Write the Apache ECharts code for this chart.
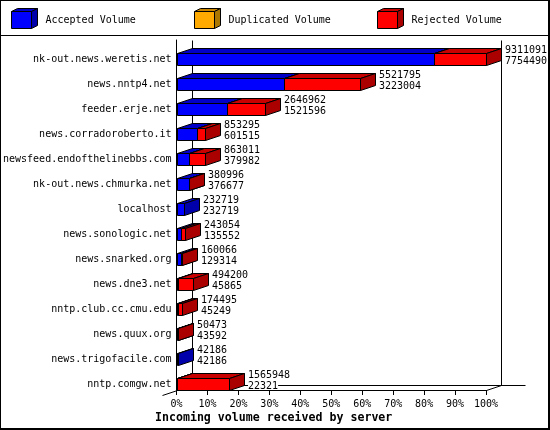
<!DOCTYPE html>
<html>
<head>
<meta charset="utf-8">
<style>html,body{margin:0;padding:0;background:#fff}#c{width:550px;height:430px}</style>
<script src="https://cdn.jsdelivr.net/npm/echarts@6/dist/echarts.min.js"></script>
</head>
<body>
<div id="c"></div>
<script>
const categories = ['nk-out.news.weretis.net','news.nntp4.net','feeder.erje.net','news.corradoroberto.it','newsfeed.endofthelinebbs.com','nk-out.news.chmurka.net','localhost','news.sonologic.net','news.snarked.org','news.dne3.net','nntp.club.cc.cmu.edu','news.quux.org','news.trigofacile.com','nntp.comgw.net'];
const totalVolume = [9311091,5521795,2646962,853295,863011,380996,232719,243054,160066,494200,174495,50473,42186,1565948];
const acceptedVolume = [7754490,3223004,1521596,601515,379982,376677,232719,135552,129314,45865,45249,43592,42186,22321];
const legendNames = ['Accepted Volume','Duplicated Volume','Rejected Volume'];
const axisTitle = 'Incoming volume received by server';

const FONT = '"DejaVu Sans Mono","Liberation Mono",monospace';
const DX = 15, DY = 5, H = 12;
const FACES = {
  accepted: {front:'#0000ff', top:'#0000c8', side:'#0000aa'},
  duplicated: {front:'#ffaa00', top:'#c88600', side:'#aa7700'},
  rejected: {front:'#ff0000', top:'#c80000', side:'#aa0000'}
};
const maxTotal = Math.max.apply(null, totalVolume);
const pct = v => v / maxTotal * 100;
const ln = {stroke:'#000', lineWidth:1};

function boxRenderer(c) {
  return function (params, api) {
    const idx = api.value(0);
    const a = api.coord([api.value(1), idx]);
    const b = api.coord([api.value(2), idx]);
    const x0 = Math.round(a[0]) + 0.5, x1 = Math.round(b[0]) + 0.5;
    const yt = Math.floor(a[1]) + 1.5, yb = yt + H;
    const poly = (pts, fill) => ({type:'polygon', shape:{points:pts}, style:Object.assign({fill}, ln)});
    return {type:'group', children:[
      poly([[x0,yt],[x1,yt],[x1+DX,yt-DY],[x0+DX,yt-DY]], c.top),
      poly([[x1,yt],[x1+DX,yt-DY],[x1+DX,yb-DY],[x1,yb]], c.side),
      poly([[x0,yt],[x1,yt],[x1,yb],[x0,yb]], c.front)
    ]};
  };
}
function frameRenderer(params, api) {
  const tl = api.coord([0, 0]), br = api.coord([100, 0]);
  const x0 = Math.round(tl[0]) + 0.5, x1 = Math.round(br[0]) + 0.5;
  const sz = api.size([0, 1])[1];
  const top = Math.round(tl[1] - sz / 2) + 0.5;
  const bottom = Math.round(tl[1] + sz * (categories.length - 0.5)) + 0.5;
  const line = (p, q) => ({type:'line', shape:{x1:p[0],y1:p[1],x2:q[0],y2:q[1]}, style:ln});
  return {type:'group', children:[
    line([x0+DX,top],[x0+DX,bottom-DY]),
    line([x1+DX,top],[x1+DX,bottom-DY]),
    line([x0+DX,bottom-DY],[x1+DX+24,bottom-DY]),
    line([x0,bottom],[x0-DX,bottom+DY]),
    line([x1,bottom],[x1+DX,bottom-DY])
  ]};
}
function labelRenderer(params, api) {
  const i = api.value(0);
  const p = api.coord([api.value(1), i]);
  const txt = (s, dy) => ({type:'text', style:{
    text: String(s),
    x: Math.round(p[0]) + DX + 4, y: p[1] + 3.5 + dy,
    align:'left', verticalAlign:'middle', lineHeight:10,
    font:'10px ' + FONT, fill:'#000', backgroundColor:'#fff'
  }});
  return {type:'group', children:[txt(totalVolume[i], -5.5), txt(acceptedVolume[i], 5.5)]};
}
const legendLeft = [11, 194, 377];
const keys = ['accepted','duplicated','rejected'];
const swatches = [];
legendLeft.forEach((l, i) => {
  const c = FACES[keys[i]], x0 = l + 0.5, x1 = x0 + 20, yt = 11.5, yb = 28.5;
  swatches.push({type:'polygon', silent:true, shape:{points:[[x0,yt],[x1,yt],[x1+6,yt-3],[x0+6,yt-3]]}, style:Object.assign({fill:c.top}, ln)});
  swatches.push({type:'polygon', silent:true, shape:{points:[[x1,yt],[x1+6,yt-3],[x1+6,yb-3],[x1,yb]]}, style:Object.assign({fill:c.side}, ln)});
});
const border = [
  {type:'rect', silent:true, shape:{x:0,y:0,width:550,height:1}, style:{fill:'#000'}},
  {type:'rect', silent:true, shape:{x:0,y:0,width:1,height:430}, style:{fill:'#000'}},
  {type:'rect', silent:true, shape:{x:548,y:0,width:2,height:430}, style:{fill:'#000'}},
  {type:'rect', silent:true, shape:{x:0,y:428,width:550,height:2}, style:{fill:'#000'}},
  {type:'rect', silent:true, shape:{x:0,y:35,width:550,height:1}, style:{fill:'#000'}}
];

const chart = echarts.init(document.getElementById('c'), null, {renderer:'canvas', width:550, height:430});
chart.setOption({
  animation:false,
  backgroundColor:'#fff',
  title:{text:axisTitle, left:155, top:412, padding:0, textStyle:{fontFamily:FONT, fontSize:11.6, fontWeight:'bold', color:'#000', lineHeight:12}},
  legend: legendNames.map((n, i) => ({
    left:legendLeft[i], top:11, padding:0, itemWidth:20, itemHeight:17, selectedMode:false,
    data:[{name:n, icon:'rect', itemStyle:{color:FACES[keys[i]].front, borderColor:'#000', borderWidth:1}}],
    textStyle:{fontFamily:FONT, fontSize:10, color:'#000', padding:[0,0,0,9]}
  })),
  grid:{left:176, top:40, width:310, height:350, containLabel:false},
  xAxis:{type:'value', min:0, max:100, interval:10, z:10,
    axisLine:{show:true, lineStyle:{color:'#000', width:1}},
    axisTick:{show:true, length:5, lineStyle:{color:'#000', width:1}},
    axisLabel:{show:true, formatter:'{value}%', margin:9, color:'#000', fontFamily:FONT, fontSize:10, hideOverlap:false},
    splitLine:{show:false}},
  yAxis:{type:'category', inverse:true, data:categories,
    axisLine:{show:true, onZero:false, lineStyle:{color:'#000', width:1}},
    axisTick:{show:false},
    axisLabel:{show:true, interval:0, margin:5, color:'#000', fontFamily:FONT, fontSize:10, verticalAlign:'top', lineHeight:13},
    splitLine:{show:false}},
  graphic:{elements:swatches.concat(border)},
  series:[
    {type:'custom', name:'frame', silent:true, clip:false, renderItem:frameRenderer, encode:{x:1,y:0}, data:[[0,0]]},
    {type:'custom', name:legendNames[0], silent:true, clip:false, renderItem:boxRenderer(FACES.accepted), itemStyle:{color:FACES.accepted.front}, encode:{x:[1,2],y:0},
      data:categories.map((c,i)=>[i,0,pct(acceptedVolume[i])])},
    {type:'custom', name:legendNames[1], silent:true, clip:false, renderItem:boxRenderer(FACES.duplicated), itemStyle:{color:FACES.duplicated.front}, encode:{x:[1,2],y:0}, data:[]},
    {type:'custom', name:legendNames[2], silent:true, clip:false, renderItem:boxRenderer(FACES.rejected), itemStyle:{color:FACES.rejected.front}, encode:{x:[1,2],y:0},
      data:categories.map((c,i)=>[i,pct(acceptedVolume[i]),pct(totalVolume[i])]).filter(d=>d[2]>d[1])},
    {type:'custom', name:'values', silent:true, clip:false, renderItem:labelRenderer, encode:{x:1,y:0},
      data:categories.map((c,i)=>[i,pct(totalVolume[i])])}
  ]
});
</script>
</body>
</html>
